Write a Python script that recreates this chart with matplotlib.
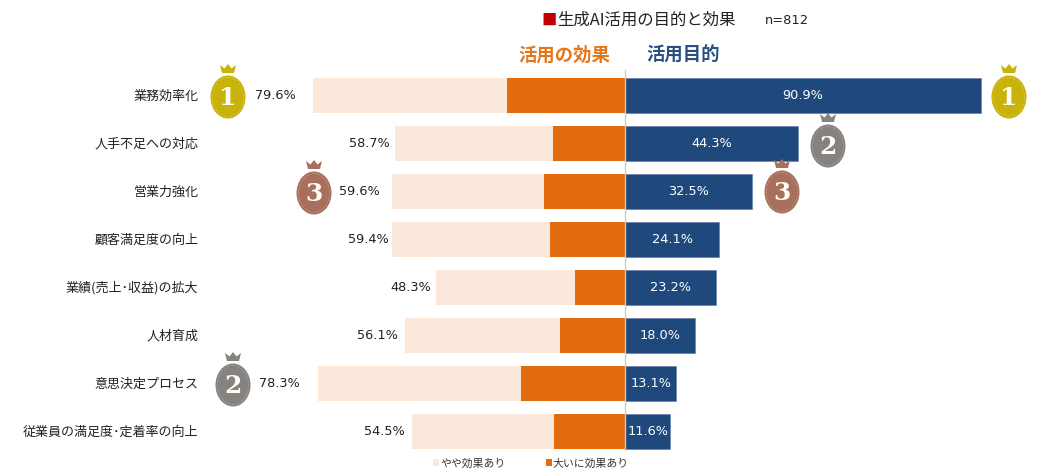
import matplotlib
matplotlib.use("Agg")
import matplotlib.pyplot as plt
from matplotlib.patches import Ellipse, Polygon
from matplotlib.transforms import Affine2D

plt.rcParams['font.family'] = ['Noto Sans CJK JP', 'DejaVu Sans']

categories = ["業務効率化", "人手不足への対応", "営業力強化", "顧客満足度の向上",
              "業績(売上･収益)の拡大", "人材育成", "意思決定プロセス", "従業員の満足度･定着率の向上"]
effect_total = [79.6, 58.7, 59.6, 59.4, 48.3, 56.1, 78.3, 54.5]
effect_strong = [30.1, 18.4, 20.7, 19.1, 12.8, 16.6, 26.5, 18.1]
purpose = [90.9, 44.3, 32.5, 24.1, 23.2, 18.0, 13.1, 11.6]
label_gap_px = [18, 5, 12, 4, 5, 7, 19, 7]

W, H = 1054, 475
fig = plt.figure(figsize=(W / 100, H / 100), dpi=100, facecolor="white")
ax = fig.add_axes([0, 0, 1, 1])
PX = 3.916
ROW = 48.0
ax.set_xlim(-625 / PX, (W - 625) / PX)
ax.set_ylim((H - 95) / ROW, -95 / ROW)
ax.axis("off")

LIGHT, ORANGE, NAVY = "#FCE8DA", "#E36C0E", "#1F497D"
NUM = ['DejaVu Sans']
ys = list(range(len(categories)))
h = 35 / ROW
effect_weak = [t - s for t, s in zip(effect_total, effect_strong)]
neg_strong = [-s for s in effect_strong]
neg_weak = [-w for w in effect_weak]
b_weak = ax.barh(ys, neg_weak, left=neg_strong, height=h, color=LIGHT, label="やや効果あり", zorder=2)
b_strong = ax.barh(ys, neg_strong, height=h, color=ORANGE, label="大いに効果あり", zorder=2)
ax.barh(ys, purpose, height=h, color=NAVY, edgecolor="#5F7FA8", linewidth=0.4, zorder=2)
ax.axvline(0, ymin=(H - 450) / H, ymax=(H - 70) / H, color="#C9C9C9", linewidth=1, zorder=3)

# pixel-space transform (origin top-left) for decoration and fixed-position text
pix = Affine2D().scale(1, -1).translate(0, H)
def ptext(x, y, s, **kw):
    ax.text(x, y, s, transform=pix, **kw)

for y, c, t, p, g in zip(ys, categories, effect_total, purpose, label_gap_px):
    ax.annotate(c, (0, y), xycoords=("figure pixels", "data"), xytext=(198.5 * 0.72, -0.6),
                textcoords="offset points", ha="right", va="center", fontsize=9.4, color="#222222")
    ax.annotate(f"{t:.1f}%", (-t, y), xytext=(-g * 0.72, -0.3), textcoords="offset points",
                ha="right", va="center", fontsize=9.3, color="#222222", family=NUM)
    ax.annotate(f"{p:.1f}%", (p / 2, y), xytext=(0, -0.3), textcoords="offset points",
                ha="center", va="center", fontsize=9.3, color="white", zorder=5, family=NUM)

ptext(541, 20, "■", color="#C00000", fontsize=11, ha="left", va="center")
ptext(557, 20.5, "生成AI活用の目的と効果", color="#222222", fontsize=11.8, ha="left", va="center")
ptext(765, 20.5, "n=812", color="#222222", fontsize=9.4, ha="left", va="center", family=NUM)
ptext(610, 55.5, "活用の効果", color="#E4761B", fontsize=13.2, fontweight="bold", ha="right", va="center")
ptext(646, 55.5, "活用目的", color="#2A5082", fontsize=13.2, fontweight="bold", ha="left", va="center")

GOLD, GREY, BRONZE = "#C9B20A", "#85827F", "#A8705C"
def medal(cx, cy, n, col):
    ax.add_patch(Ellipse((cx, cy), 35, 43, transform=pix, color=col, zorder=6, lw=0))
    ax.add_patch(Ellipse((cx, cy), 31, 39, transform=pix, fill=False, ec="#FFFFFF", ls=(0, (1, 1.5)),
                         lw=0.4, alpha=0.6, zorder=7))
    crown = [(-6, -24), (-8, -32), (-3.5, -28.5), (0, -33), (3.5, -28.5), (8, -32), (6, -24)]
    ax.add_patch(Polygon([(cx + a, cy + b) for a, b in crown], transform=pix, color=col, zorder=6, lw=0))
    ax.text(cx, cy + 1, str(n), transform=pix, ha="center", va="center", color="#FFFDF0", fontsize=18,
            fontweight="bold", family="DejaVu Serif", zorder=8)

medal(228, 97, 1, GOLD)
medal(1009, 97, 1, GOLD)
medal(828, 146, 2, GREY)
medal(233, 385, 2, GREY)
medal(314, 193, 3, BRONZE)
medal(782, 192, 3, BRONZE)

fig.legend(handles=[b_weak, b_strong], loc="center", bbox_to_anchor=(531 / W, 1 - 463.5 / H), ncols=2,
           frameon=False, fontsize=7.8, handlelength=0.55, handleheight=0.55, handletextpad=0.1,
           columnspacing=3.7, labelcolor="#333333")

fig.savefig("out.png", dpi=100)
